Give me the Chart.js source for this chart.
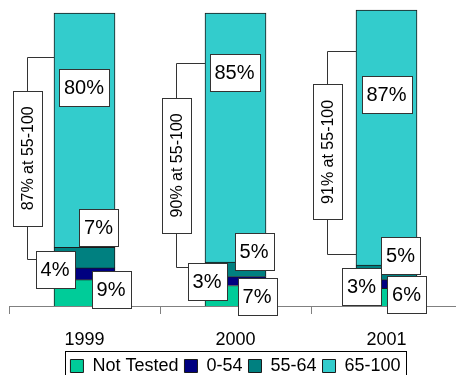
<!DOCTYPE html>
<html><head><meta charset="utf-8">
<script src="https://cdn.jsdelivr.net/npm/chart.js@4.4.1/dist/chart.umd.min.js"></script>
<style>
html,body{margin:0;padding:0;background:#fff;overflow:hidden;}
#wrap{position:relative;width:465px;height:390px;}
</style></head>
<body><div id="wrap"><canvas id="c"></canvas></div>
<script>
// ---- data ----
const years = ['1999', '2000', '2001'];
const seriesNames = ['Not Tested', '0-54', '55-64', '65-100'];
const notTested = [9, 7, 6];
const score0to54 = [4, 3, 3];
const score55to64 = [7, 5, 5];
const score65to100 = [80, 85, 87];
const combined55to100 = [87, 90, 91];

// ---- styling / layout (not data) ----
const colors = ['#00CC99', '#000080', '#008080', '#33CCCC'];
const FONT = "'Liberation Sans', Arial, sans-serif";
// label box anchor: [dx from bar centre in px, y position in axis units]
const labelAnchors = [
  [[26.5, 5.8], [21.5, 3.1], [20, 3.9]],      // Not Tested
  [[-29.5, 12.6], [-28.5, 8.4], [-25, 6.5]],  // 0-54
  [[14, 26.8], [18.5, 18.6], [14, 17.1]],     // 55-64
  [[-0.5, 74.5], [-1, 79.7], [0, 72.1]]       // 65-100
];
// bracket: x offset from bar left, top value, bottom value, bottom end dx from bar left, label centre value
const brackets = [
  {dx: -27, top: 85, bottom: 15.9, endDx: -18, mid: 50.4},
  {dx: -29, top: 82.9, bottom: 13.2, endDx: -17, mid: 48},
  {dx: -29, top: 87, bottom: 17.9, endDx: 0, mid: 52.6}
];

const seriesValues = [notTested, score0to54, score55to64, score65to100];

const annot = {
  id: 'annot',
  afterDatasetsDraw(chart) {
    const ctx = chart.ctx;
    const y = chart.scales.y;
    ctx.save();
    years.forEach((yr, i) => {
      const bar = chart.getDatasetMeta(3).data[i];
      const left = bar.x - bar.width / 2;
      const b = brackets[i];
      const bx = Math.round(left + b.dx) + 0.5;
      const ty = Math.round(y.getPixelForValue(b.top)) + 0.5;
      const by = Math.round(y.getPixelForValue(b.bottom)) + 0.5;
      ctx.strokeStyle = '#333';
      ctx.lineWidth = 1;
      ctx.beginPath();
      ctx.moveTo(Math.round(left), ty);
      ctx.lineTo(bx, ty);
      ctx.lineTo(bx, by);
      ctx.lineTo(Math.round(left + b.endDx), by);
      ctx.stroke();
      // rotated label
      const txt = combined55to100[i] + '% at 55-100';
      ctx.font = '16px ' + FONT;
      const tw = ctx.measureText(txt).width;
      const h = Math.round(tw + 31), w = 29;
      const cy = y.getPixelForValue(b.mid);
      const rx = Math.round(bx - w / 2) + 0.5, ry = Math.round(cy - h / 2) + 0.5;
      ctx.fillStyle = '#fff';
      ctx.fillRect(rx, ry, w, h);
      ctx.strokeRect(rx, ry, w, h);
      ctx.save();
      ctx.translate(bx, cy);
      ctx.rotate(-Math.PI / 2);
      ctx.fillStyle = '#000';
      ctx.textAlign = 'center';
      ctx.textBaseline = 'middle';
      ctx.fillText(txt, 0, 1);
      ctx.restore();
      // segment labels
      ctx.font = '20px ' + FONT;
      seriesValues.forEach((vals, s) => {
        const t = vals[i] + '%';
        const [dx, v] = labelAnchors[s][i];
        const cx = bar.x + dx;
        const cyy = y.getPixelForValue(v);
        const bw = Math.round(ctx.measureText(t).width + 10), bh = 37;
        const lx = Math.round(cx - bw / 2) + 0.5, ly = Math.round(cyy - bh / 2) + 0.5;
        ctx.fillStyle = '#fff';
        ctx.fillRect(lx, ly, bw, bh);
        ctx.strokeStyle = '#333';
        ctx.strokeRect(lx, ly, bw, bh);
        ctx.fillStyle = '#000';
        ctx.textAlign = 'center';
        ctx.textBaseline = 'middle';
        ctx.fillText(t, cx, cyy + 1);
      });
    });
    ctx.restore();
  },
  afterDraw(chart) {
    const lg = chart.legend;
    if (!lg || !lg.legendHitBoxes.length) return;
    const hb = lg.legendHitBoxes;
    const l = Math.round(hb[0].left - 5) + 0.5;
    const r = Math.round(hb[hb.length - 1].left + hb[hb.length - 1].width + 5) + 0.5;
    const t = Math.round(hb[0].top + hb[0].height / 2 - 15) + 0.5;
    const ctx = chart.ctx;
    ctx.save();
    ctx.strokeStyle = '#000';
    ctx.lineWidth = 1;
    ctx.strokeRect(l, t, r - l, 40);
    ctx.restore();
  }
};

new Chart(document.getElementById('c'), {
  type: 'bar',
  data: {
    labels: years,
    datasets: seriesNames.map((name, s) => ({
      label: name,
      data: seriesValues[s],
      backgroundColor: colors[s],
      borderColor: '#1a1a1a',
      borderWidth: 1,
      barThickness: 61,
      clip: false
    }))
  },
  options: {
    responsive: true,
    maintainAspectRatio: false,
    animation: false,
    layout: {padding: {left: 9, right: 3, top: 13, bottom: 5}},
    plugins: {
      tooltip: {enabled: false},
      legend: {
        position: 'bottom',
        labels: {
          font: {size: 18, family: FONT},
          color: '#000',
          boxWidth: 13,
          boxHeight: 13,
          padding: 6
        }
      }
    },
    scales: {
      x: {
        stacked: true,
        grid: {offset: true, drawOnChartArea: false, tickLength: 8, color: '#808080'},
        border: {color: '#808080'},
        ticks: {font: {size: 18, family: FONT}, color: '#000', padding: 15},
        afterFit(scale) { scale.height = 45; }
      },
      y: {stacked: true, display: false, min: 0, max: 100}
    }
  },
  plugins: [annot]
});
</script>
</body></html>
